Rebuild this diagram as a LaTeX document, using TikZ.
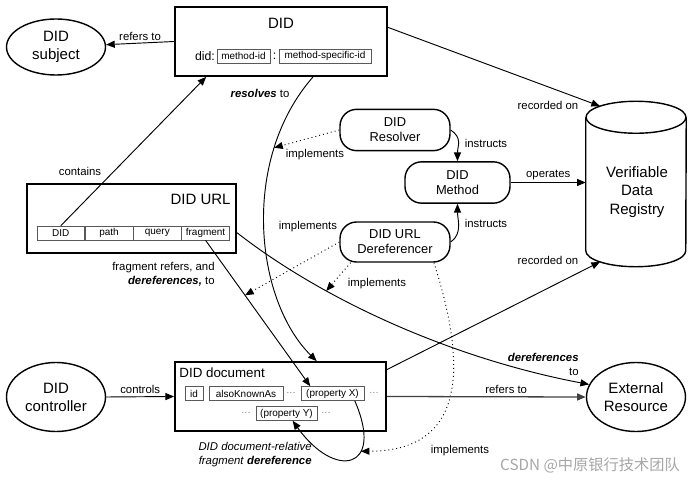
\documentclass[tikz,border=0pt]{standalone}
\usepackage{fontspec}
\setmainfont{Liberation Sans}
\newfontfamily\cjkfont{Noto Sans CJK SC}
\usetikzlibrary{arrows.meta,positioning,calc,shapes.geometric}
\tikzset{
  didbox/.style={draw,line width=1.5pt,minimum width=6.33cm,minimum height=2.07cm},
  didoval/.style={draw,ellipse,line width=1.2pt,inner sep=0pt,minimum width=2.97cm,align=center,font=\fontsize{12.8}{15.5}\selectfont},
  didround/.style={draw,line width=1.2pt,rounded corners=0.5cm,minimum width=3.3cm,minimum height=1.24cm,align=center,font=\fontsize{11}{13}\selectfont},
  didpart/.style={draw=black!65,line width=0.5pt,minimum height=0.42cm,inner sep=1pt,font=\fontsize{8.5}{10}\selectfont},
  didtitle/.style={inner sep=1pt,font=\fontsize{12.8}{15}\selectfont},
  didlabel/.style={inner sep=1pt,font=\fontsize{9.7}{12}\selectfont},
  diddots/.style={inner sep=1pt,text=black!55,font=\fontsize{8}{10}\selectfont},
  didmsg/.style={-{Triangle[length=2.6mm,width=2.1mm]},line width=0.8pt},
  didimpl/.style={didmsg,dash pattern=on 0.8pt off 2.6pt},
  didcyl/.style={line width=1.2pt}
}
\begin{document}
\begin{tikzpicture}[x=0.03cm,y=-0.03cm]
\useasboundingbox (0,0) rectangle (693,481);
% top row
\node[didoval,minimum height=1.68cm] (subject) at (56,47) {DID\\subject};
\node[didbox,minimum width=6.36cm] (did) at (281,41.5) {};
\node[didtitle] (didname) at (281,23) {DID};
\node[inner sep=1pt,font=\fontsize{10.5}{12}\selectfont] (didpre) at (205,56) {did:};
\node[didpart,minimum width=1.59cm] (methodid) at (243.5,56) {method-id};
\node[inner sep=1pt,font=\fontsize{10.5}{12}\selectfont] (didcolon) at (274.5,56) {:};
\node[didpart,minimum width=2.76cm] (msid) at (325,56) {method-specific-id};
% DID URL
\node[didbox,minimum width=6.27cm] (durl) at (131.5,218.5) {};
\node[didtitle,anchor=east] (durlname) at (232,199) {DID URL};
\node[didpart,minimum width=1.43cm] (udid) at (60.8,233) {DID};
\node[didpart,minimum width=1.43cm,right=0pt of udid] (upath) {path};
\node[didpart,minimum width=1.43cm,right=0pt of upath] (uquery) {query};
\node[didpart,minimum width=1.43cm,right=0pt of uquery] (ufrag) {fragment};
% resolver, method, dereferencer
\node[didround] (resolver) at (395,130) {DID\\Resolver};
\node[didround,minimum width=3.15cm] (method) at (457.5,182.5) {DID\\Method};
\node[didround,minimum height=1.2cm] (deref) at (395,242) {DID URL\\Dereferencer};
% registry (cylinder)
\node[inner sep=0pt,minimum width=3cm,minimum height=4.95cm] (vdr) at (636,184) {};
\draw[didcyl] ($(vdr.north)+(0,16)$) ellipse [x radius=1.5cm,y radius=0.48cm];
\draw[didcyl] ($(vdr.north west)+(0,16)$) -- ($(vdr.south west)+(0,-16)$)
  arc[start angle=180,end angle=360,x radius=1.5cm,y radius=0.48cm] -- ($(vdr.north east)+(0,16)$);
\coordinate (vdrtop) at ($(vdr.north)+(0,16)+(136:1.5cm and 0.48cm)$);
\coordinate (vdrbot) at ($(vdr.south)+(0,-16)+(224:1.5cm and 0.48cm)$);
\node[align=center,font=\fontsize{12.8}{15.6}\selectfont] (vdrname) at (637,192) {Verifiable\\Data\\Registry};
% DID document
\node[didbox] (ddoc) at (280.5,396.5) {};
\node[inner sep=1pt,anchor=west,font=\fontsize{11.4}{13}\selectfont] (ddocname) at (178,373) {DID document};
\node[didpart,minimum width=0.54cm] (pid) at (194,393.5) {id};
\node[didpart,minimum width=2.22cm] (paka) at (246,393.5) {alsoKnownAs};
\node[diddots] (dots1) at (291,393.5) {···};
\node[didpart,minimum width=1.89cm] (propx) at (332.5,393.5) {(property X)};
\node[diddots] (dots2) at (374,393.5) {···};
\node[diddots] (dots3) at (246,413.5) {···};
\node[didpart,minimum width=1.83cm] (propy) at (286.5,413.5) {(property Y)};
\node[diddots] (dots4) at (326,413.5) {···};
\node[didoval,minimum height=2.07cm] (ctrl) at (56,397) {DID\\controller};
\node[didoval,minimum height=2.07cm] (ext) at (636,397) {External\\Resource};
% connectors
\draw[didmsg] (did.west) -- node[didlabel,above=1pt]{refers to} (subject);
\draw[didmsg] (udid.north) -- ($(did.south west)!0.15!(did.south east)$);
\node[didlabel] at (80,171) {contains};
\draw[didmsg] ($(did.south west)!0.65!(did.south east)$) .. controls (240,160) and (255,300) .. coordinate[pos=0.25] (respt) ($(ddoc.north west)!0.67!(ddoc.north east)$);
\node[didlabel] at (260,93) {\textbf{\textit{resolves}} to};
\draw[didmsg] (ufrag.south) -- coordinate[pos=0.377] (fragpt) ($(propx.north west)!0.15!(propx.north east)$);
\node[didlabel,anchor=east,align=right] at (216,274) {fragment refers, and\\\textbf{\textit{dereferences,}} to};
\draw[didmsg] ($(durl.north east)!0.7!(durl.south east)$) .. controls (330,305) and (460,360) .. coordinate[pos=0.29] (derefpt) (ext.165);
\node[didlabel,anchor=east,align=right] at (580,364) {\textbf{\textit{dereferences}}\\to};
\draw[didmsg] ($(did.north east)!0.3!(did.south east)$) -- (vdrtop);
\node[didlabel] at (548,105) {recorded on};
\draw[didmsg] ($(ddoc.north east)!0.12!(ddoc.south east)$) -- (vdrbot);
\node[didlabel] at (548,260) {recorded on};
\draw[didmsg] (method.east) -- node[didlabel,above=1pt]{operates} (method.east -| vdr.west);
\draw[didmsg] (resolver.east) .. controls +(12,8) and +(0,-15) .. (method.north);
\node[didlabel] at (486,143) {instructs};
\draw[didmsg] (deref.east) .. controls +(12,-8) and +(0,15) .. (method.south);
\node[didlabel] at (486,223) {instructs};
\draw[didmsg] ($(propx.south west)!0.85!(propx.south east)$) .. controls (385,470) and (335,480) .. coordinate[pos=0.35] (looppt) ($(propy.south west)!0.6!(propy.south east)$);
\node[didlabel,anchor=east,align=right] at (313,455) {\textit{DID document-relative}\\\textit{fragment} \textbf{\textit{dereference}}};
\draw[didimpl] (resolver.west) -- (respt);
\node[didlabel] at (315,155) {implements};
\draw[didimpl] (deref.west) -- (fragpt);
\node[didlabel] at (308,227) {implements};
\draw[didimpl] (deref.205) -- (derefpt);
\node[didlabel] at (377,284) {implements};
\draw[didimpl] (deref.-28) .. controls (465,360) and (470,451) .. (looppt);
\node[didlabel] at (460,451) {implements};
\draw[didmsg] (ctrl.east) -- node[didlabel,above=1pt]{controls} (ddoc.west);
\draw[didmsg,draw=black!75,line width=1.1pt] (ddoc.east) -- node[didlabel,above=1pt,pos=0.6]{refers to} (ext.west);
\node[text=black!35,font=\cjkfont\fontsize{13}{15}\selectfont] at (590,465) {CSDN @中原银行技术团队};
\end{tikzpicture}
\end{document}
